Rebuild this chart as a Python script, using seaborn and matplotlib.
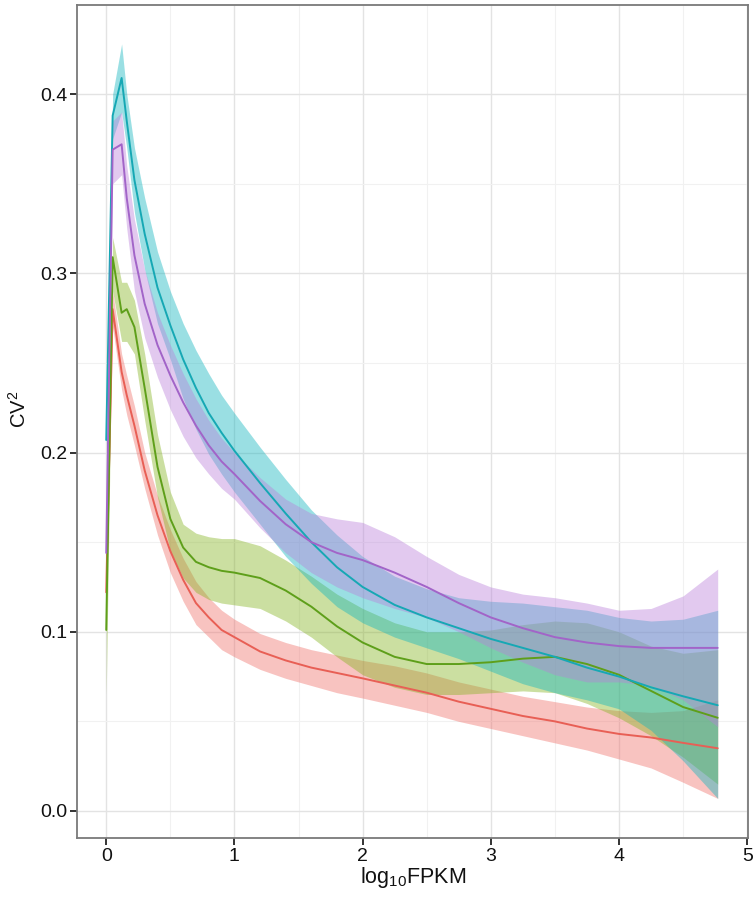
import numpy as np
import pandas as pd
import matplotlib
matplotlib.use("Agg")
import matplotlib.pyplot as plt
import seaborn as sns
from matplotlib.ticker import MultipleLocator

# ---- data ----
log_fpkm = [0, 0.05, 0.12, 0.16, 0.22, 0.3, 0.4, 0.5, 0.6, 0.7, 0.8, 0.9, 1.0,
            1.2, 1.4, 1.6, 1.8, 2.0, 2.25, 2.5, 2.75, 3.0, 3.25, 3.5, 3.75,
            4.0, 4.25, 4.5, 4.77]

red_mean = [0.122, 0.280, 0.245, 0.232, 0.215, 0.190, 0.165, 0.145, 0.129, 0.116,
            0.108, 0.101, 0.097, 0.089, 0.084, 0.080, 0.077, 0.074, 0.070, 0.066,
            0.061, 0.057, 0.053, 0.050, 0.046, 0.043, 0.041, 0.038, 0.035]
red_upper = [0.127, 0.290, 0.255, 0.243, 0.226, 0.200, 0.176, 0.157, 0.141, 0.128,
             0.119, 0.112, 0.107, 0.099, 0.094, 0.090, 0.087, 0.084, 0.081, 0.077,
             0.072, 0.068, 0.064, 0.061, 0.058, 0.056, 0.055, 0.056, 0.062]
red_lower = [0.117, 0.270, 0.235, 0.221, 0.204, 0.180, 0.154, 0.133, 0.117, 0.104,
             0.097, 0.090, 0.086, 0.079, 0.074, 0.070, 0.066, 0.063, 0.059, 0.055,
             0.050, 0.046, 0.042, 0.038, 0.034, 0.029, 0.024, 0.016, 0.007]

green_mean = [0.101, 0.309, 0.278, 0.280, 0.270, 0.236, 0.192, 0.163, 0.147, 0.139,
              0.136, 0.134, 0.133, 0.130, 0.123, 0.114, 0.103, 0.094, 0.086, 0.082,
              0.082, 0.083, 0.085, 0.086, 0.082, 0.076, 0.067, 0.058, 0.052]
green_upper = [0.125, 0.320, 0.295, 0.295, 0.285, 0.255, 0.210, 0.178, 0.160, 0.155,
               0.153, 0.152, 0.152, 0.148, 0.140, 0.131, 0.121, 0.113, 0.105, 0.100,
               0.100, 0.101, 0.104, 0.106, 0.105, 0.100, 0.092, 0.088, 0.090]
green_lower = [0.065, 0.290, 0.262, 0.262, 0.255, 0.218, 0.175, 0.145, 0.130, 0.122,
               0.118, 0.116, 0.115, 0.113, 0.106, 0.097, 0.086, 0.076, 0.069, 0.065,
               0.065, 0.066, 0.067, 0.066, 0.060, 0.052, 0.042, 0.030, 0.015]

cyan_mean = [0.207, 0.388, 0.409, 0.385, 0.352, 0.322, 0.292, 0.271, 0.252, 0.236,
             0.222, 0.211, 0.201, 0.183, 0.166, 0.150, 0.136, 0.125, 0.115, 0.108,
             0.102, 0.096, 0.091, 0.086, 0.080, 0.075, 0.069, 0.064, 0.059]
cyan_upper = [0.212, 0.400, 0.428, 0.400, 0.370, 0.342, 0.312, 0.290, 0.272, 0.257,
              0.244, 0.232, 0.222, 0.203, 0.185, 0.168, 0.154, 0.142, 0.131, 0.124,
              0.119, 0.117, 0.116, 0.114, 0.112, 0.108, 0.106, 0.107, 0.112]
cyan_lower = [0.202, 0.375, 0.390, 0.370, 0.334, 0.302, 0.272, 0.252, 0.230, 0.213,
              0.199, 0.188, 0.178, 0.160, 0.142, 0.127, 0.114, 0.105, 0.097, 0.091,
              0.085, 0.078, 0.071, 0.066, 0.062, 0.057, 0.045, 0.028, 0.007]

purple_mean = [0.144, 0.369, 0.372, 0.342, 0.310, 0.283, 0.260, 0.243, 0.228, 0.215,
               0.204, 0.195, 0.188, 0.173, 0.160, 0.150, 0.144, 0.140, 0.133, 0.125,
               0.116, 0.108, 0.102, 0.097, 0.094, 0.092, 0.091, 0.091, 0.091]
purple_upper = [0.148, 0.385, 0.390, 0.360, 0.330, 0.302, 0.278, 0.260, 0.244, 0.230,
                0.218, 0.208, 0.200, 0.186, 0.174, 0.166, 0.163, 0.161, 0.153, 0.142,
                0.132, 0.125, 0.121, 0.119, 0.116, 0.112, 0.113, 0.120, 0.135]
purple_lower = [0.140, 0.350, 0.355, 0.325, 0.290, 0.264, 0.242, 0.224, 0.209, 0.197,
                0.188, 0.180, 0.174, 0.158, 0.144, 0.133, 0.125, 0.119, 0.113, 0.108,
                0.100, 0.091, 0.083, 0.076, 0.072, 0.072, 0.070, 0.062, 0.047]

series_names = ["red", "green", "cyan", "purple"]
band_colors = ["#F0706A", "#84B320", "#10B5BE", "#BA80DA"]
line_colors = ["#E85F55", "#5E9F1A", "#16A8B4", "#A264C8"]
series_means = [red_mean, green_mean, cyan_mean, purple_mean]
series_lowers = [red_lower, green_lower, cyan_lower, purple_lower]
series_uppers = [red_upper, green_upper, cyan_upper, purple_upper]

x_ticks = [0, 1, 2, 3, 4, 5]
y_ticks = [0.0, 0.1, 0.2, 0.3, 0.4]
y_tick_labels = ["0.0", "0.1", "0.2", "0.3", "0.4"]

# ---- plotting ----
sns.set_theme(style="white")
plt.rcParams["font.family"] = ["Liberation Sans", "DejaVu Sans"]
plt.rcParams["mathtext.fontset"] = "custom"
plt.rcParams["mathtext.rm"] = "Liberation Sans"
plt.rcParams["mathtext.it"] = "Liberation Sans"

fig = plt.figure(figsize=(7.55, 8.99), dpi=100)
ax = fig.add_axes([0.102, 0.068, 0.889, 0.926])

for name, bcol, lcol, m, lo, hi in zip(series_names, band_colors, line_colors,
                                       series_means, series_lowers, series_uppers):
    df = pd.DataFrame({"log10FPKM": log_fpkm, "CV2": m, "lo": lo, "hi": hi})
    ax.fill_between(df["log10FPKM"], df["lo"], df["hi"], color=bcol, alpha=0.42,
                    linewidth=0, zorder=2)
    sns.lineplot(data=df, x="log10FPKM", y="CV2", color=lcol, linewidth=1.4,
                 ax=ax, zorder=3, estimator=None, sort=False)

ax.set_xlim(-0.228, 5.008)
ax.set_ylim(-0.015, 0.4495)

ax.set_xticks(x_ticks)
ax.set_yticks(y_ticks)
ax.set_yticklabels(y_tick_labels)
ax.xaxis.set_minor_locator(MultipleLocator(0.5))
ax.yaxis.set_minor_locator(MultipleLocator(0.05))

ax.grid(True, which="major", color="#E3E3E3", linewidth=1.0, zorder=0)
ax.grid(True, which="minor", color="#F1F1F1", linewidth=0.8, zorder=0)
ax.set_axisbelow(True)

for s in ax.spines.values():
    s.set_visible(True)
    s.set_color("#7A7A7A")
    s.set_linewidth(1.3)

ax.tick_params(axis="both", which="major", direction="out", length=5, width=1.4,
               color="#333333", labelsize=14, labelcolor="#111111", pad=2,
               bottom=True, left=True)
ax.tick_params(axis="both", which="minor", length=0)

ax.set_xlabel("log$_{10}$FPKM", fontsize=15.5, color="#111111", labelpad=0)
ax.set_ylabel("CV$^{2}$", fontsize=14.5, color="#111111", labelpad=6)
ax.yaxis.set_label_coords(-0.07, 0.515)

fig.savefig("out.png", dpi=100)
